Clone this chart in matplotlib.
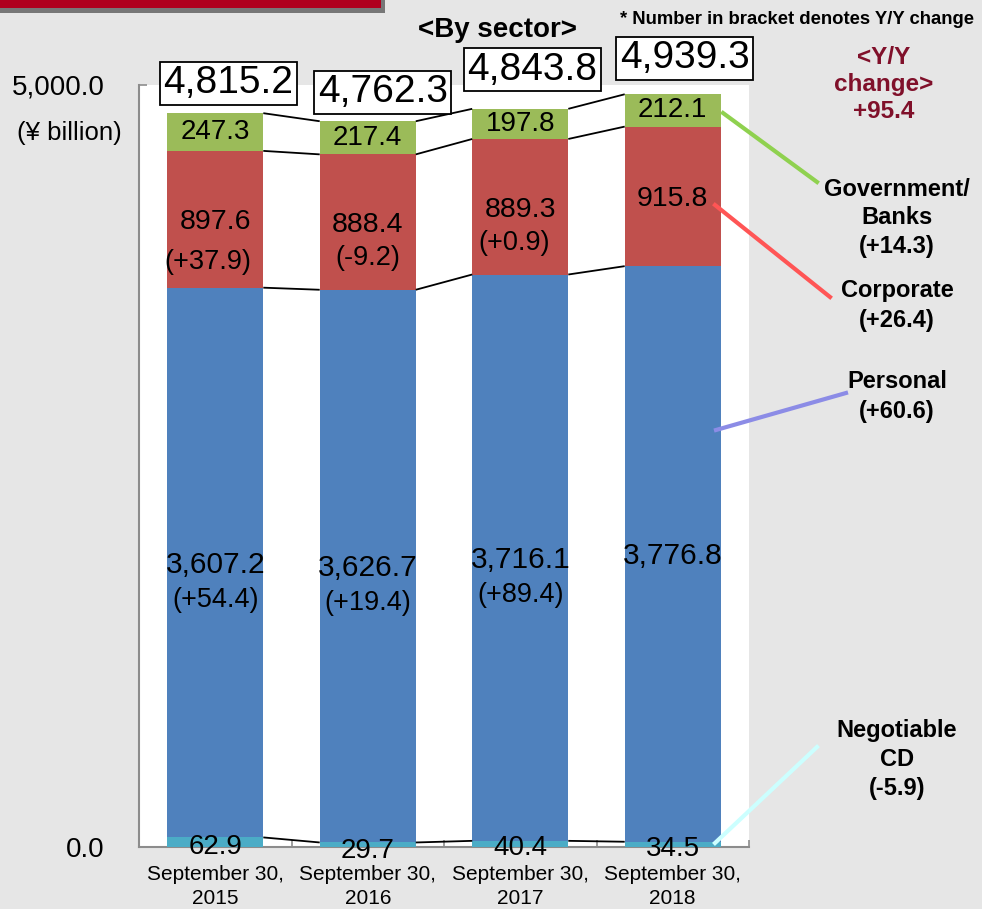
import matplotlib
matplotlib.use("Agg")
import matplotlib.pyplot as plt
from matplotlib.patches import Rectangle
from matplotlib.lines import Line2D

plt.rcParams['font.family'] = ['Liberation Sans', 'DejaVu Sans']

# ---- data (¥ billion) ----
periods = ["September 30,\n2015", "September 30,\n2016", "September 30,\n2017", "September 30,\n2018"]
negotiable_cd = [62.9, 29.7, 40.4, 34.5]
personal = [3607.2, 3626.7, 3716.1, 3776.8]
corporate = [897.6, 888.4, 889.3, 915.8]
government_banks = [247.3, 217.4, 197.8, 212.1]
totals = [4815.2, 4762.3, 4843.8, 4939.3]
personal_yoy = ["(+54.4)", "(+19.4)", "(+89.4)", ""]
corporate_yoy = ["(+37.9)", "(-9.2)", "(+0.9)", ""]
yticks = [0, 5000]
ytick_labels = ["0.0", "5,000.0"]
total_change = "+95.4"
sector_labels = [["Government/", "Banks", "(+14.3)"],
                 ["Corporate", "(+26.4)"],
                 ["Personal", "(+60.6)"],
                 ["Negotiable", "CD", "(-5.9)"]]

C_CD = "#4BACC6"
C_PERS = "#4F81BD"
C_CORP = "#C0504D"
C_GOV = "#9BBB59"

W, H = 982, 909
fig = plt.figure(figsize=(W / 100, H / 100), dpi=100, facecolor="#E6E6E6")


def px(x, y):
    """pixel (top-left origin) -> figure fraction"""
    return x / W, 1 - y / H


ax_l, ax_r, ax_t, ax_b = 139, 749, 85, 847
ax = fig.add_axes([ax_l / W, (H - ax_b) / H, (ax_r - ax_l) / W, (ax_b - ax_t) / H])
ax.set_facecolor("white")

n = len(periods)
x = list(range(n))
bw = 0.63

b0 = [0] * n
b1 = [a + b for a, b in zip(b0, negotiable_cd)]
b2 = [a + b for a, b in zip(b1, personal)]
b3 = [a + b for a, b in zip(b2, corporate)]
b4 = [a + b for a, b in zip(b3, government_banks)]

ax.bar(x, negotiable_cd, bw, bottom=b0, color=C_CD, zorder=2)
ax.bar(x, personal, bw, bottom=b1, color=C_PERS, zorder=2)
ax.bar(x, corporate, bw, bottom=b2, color=C_CORP, zorder=2)
ax.bar(x, government_banks, bw, bottom=b3, color=C_GOV, zorder=2)

# series lines joining segment boundaries of neighbouring bars
for level in (b1, b2, b3, b4):
    for i in range(n - 1):
        ax.plot([i + bw / 2, i + 1 - bw / 2], [level[i], level[i + 1]],
                color="black", lw=1.3, zorder=3, solid_capstyle="butt")

ax.set_xlim(-0.5, n - 0.5)
ax.set_ylim(0, 5000)

for s in ("top", "right"):
    ax.spines[s].set_visible(False)
for s in ("left", "bottom"):
    ax.spines[s].set_color("#8C8C8C")
    ax.spines[s].set_linewidth(1.5)
ax.spines["bottom"].set_zorder(1)

ax.set_yticks(yticks)
ax.set_yticklabels(ytick_labels, fontsize=20)
ax.tick_params(axis="y", direction="in", length=6, color="#8C8C8C", width=1.2, pad=25)
ax.set_xticks(x)
ax.set_xticklabels(periods, fontsize=15, linespacing=1.35)
ax.tick_params(axis="x", which="major", length=0, pad=13)
ax.set_xticks([i - 0.5 for i in range(n + 1)], minor=True)
ax.tick_params(axis="x", which="minor", direction="in", length=5, color="#8C8C8C", width=1.2)

PT = 0.72  # points per pixel at 100 dpi
corp_chg_dy = [43, 36, 36, 0]
corp_chg_dx = [-7, 0, -6, 0]

# segment value labels
for i in range(n):
    ax.annotate(f"{government_banks[i]:,.1f}", (i, (b3[i] + b4[i]) / 2),
                ha="center", va="center", fontsize=20, zorder=4)
    corp_mid = (b2[i] + b3[i]) / 2
    ax.annotate(f"{corporate[i]:,.1f}", (i, corp_mid), xytext=(0, -3 * PT),
                textcoords="offset points", ha="center", va="center", fontsize=20.5, zorder=4)
    if corporate_yoy[i]:
        ax.annotate(corporate_yoy[i], (i, corp_mid),
                    xytext=(corp_chg_dx[i] * PT, -corp_chg_dy[i] * PT),
                    textcoords="offset points", ha="center", va="center", fontsize=19.5, zorder=4)
    pers_mid = (b1[i] + b2[i]) / 2
    ax.annotate(f"{personal[i]:,.1f}", (i, pers_mid), xytext=(0, -2 * PT),
                textcoords="offset points", ha="center", va="center", fontsize=21.5, zorder=4)
    if personal_yoy[i]:
        ax.annotate(personal_yoy[i], (i, pers_mid), xytext=(0, -37 * PT),
                    textcoords="offset points", ha="center", va="center", fontsize=19.5, zorder=4)
    ax.annotate(f"{negotiable_cd[i]:,.1f}", (i, 0), xytext=(0, [0, -4, -1, -2][i] * PT),
                textcoords="offset points", ha="center", va="center", fontsize=20,
                zorder=4, annotation_clip=False)

# boxed totals above the bars
box_dx = [13, 15, 12, 12]
box_dy = [30, 29, 39, 36]
for i in range(n):
    ax.annotate(f"{totals[i]:,.1f}", (i, totals[i]), xytext=(box_dx[i] * PT, box_dy[i] * PT),
                textcoords="offset points", ha="center", va="center", fontsize=28,
                annotation_clip=False, zorder=5,
                bbox=dict(boxstyle="square,pad=0.09", fc="white", ec="black", lw=1.3))

# unit label
fig.text(*px(69, 133), "(¥ billion)", ha="center", va="center", fontsize=18.5)

# headings
fig.text(*px(498, 30), "<By sector>", ha="center", va="center", fontsize=20, fontweight="bold")
fig.text(*px(797, 20), "* Number in bracket denotes Y/Y change", ha="center", va="center",
         fontsize=13.3, fontweight="bold")

# overall change
red_dark = "#80102A"
for txt, yy in zip(["<Y/Y", "change>", total_change], [57, 85, 111]):
    fig.text(*px(884, yy), txt, ha="center", va="center", fontsize=17.5,
             fontweight="bold", color=red_dark)

# sector captions with leader lines
caption_y = [[190, 218, 247], [291, 320], [382, 411], [731, 760, 789]]
for lines, ys in zip(sector_labels, caption_y):
    for txt, yy in zip(lines, ys):
        fig.text(*px(897, yy), txt, ha="center", va="center", fontsize=17, fontweight="bold")

leaders = [((723, 113), (817, 182), "#8FD14F"),
           ((715, 205), (830, 297), "#FF5555"),
           ((716, 430), (846, 393), "#8C8CE6"),
           ((715, 843), (817, 747), "#CCFFFF")]
for p0, p1, col in leaders:
    a, b = px(*p0), px(*p1)
    fig.add_artist(Line2D([a[0], b[0]], [a[1], b[1]], color=col, lw=3,
                          transform=fig.transFigure, zorder=6))

# title banner strip at the top edge
fig.add_artist(Rectangle(px(0, 13), 385 / W, 13 / H, transform=fig.transFigure,
                         fc="#777777", ec="none", zorder=7))
fig.add_artist(Rectangle(px(0, 8), 381 / W, 8 / H, transform=fig.transFigure,
                         fc="#AF001E", ec="none", zorder=8))

fig.savefig("out.png", dpi=100, facecolor=fig.get_facecolor())
